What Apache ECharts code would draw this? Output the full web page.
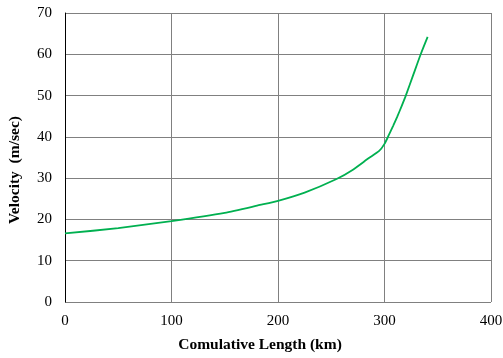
<!DOCTYPE html>
<html><head><meta charset="utf-8">
<script src="https://cdn.jsdelivr.net/npm/echarts@6/dist/echarts.min.js"></script>
<style>html,body{margin:0;padding:0;background:#fff}#c{width:503px;height:358px}</style>
</head><body><div id="c"></div>
<script>
var lengthKm = [0, 50, 100, 150, 183, 200, 225, 255, 270, 285, 295, 300, 304, 308, 312, 316, 320, 327, 334, 340.5];
var velocity = [16.6, 17.9, 19.6, 21.6, 23.5, 24.5, 26.5, 29.8, 32.0, 34.8, 36.6, 38.3, 40.4, 42.6, 44.9, 47.4, 50.0, 55.0, 60.0, 64.2];
var xName = 'Comulative Length (km)';
var yName = 'Velocity  (m/sec)';
var font = '"Liberation Serif", "Times New Roman", serif';
var data = lengthKm.map(function (x, i) { return [x, velocity[i]]; });
var chart = echarts.init(document.getElementById('c'), null, {renderer: 'canvas'});
chart.setOption({
  animation: false,
  grid: {left: 65, right: 12, top: 13, bottom: 56, outerBoundsMode: 'none', containLabel: false},
  xAxis: {
    type: 'value', min: 0, max: 400, interval: 100,
    name: xName, nameLocation: 'middle', nameGap: 35,
    nameTextStyle: {fontFamily: font, fontWeight: 'bold', fontSize: 15.5, color: '#000', padding: [0, 36, 0, 0]},
    axisLine: {show: false}, axisTick: {show: false},
    axisLabel: {fontFamily: font, fontSize: 15, color: '#000', margin: 12},
    splitLine: {show: true, lineStyle: {color: '#808080', width: 1}}
  },
  yAxis: {
    type: 'value', min: 0, max: 70, interval: 10,
    name: yName, nameLocation: 'middle', nameGap: 42,
    nameTextStyle: {fontFamily: font, fontWeight: 'bold', fontSize: 15.5, color: '#000', padding: [0, 25, 0, 0]},
    axisLine: {show: true, lineStyle: {color: '#000', width: 1}}, axisTick: {show: false},
    axisLabel: {fontFamily: font, fontSize: 15, color: '#000', margin: 13},
    splitLine: {show: true, lineStyle: {color: '#808080', width: 1}}
  },
  series: [{
    type: 'line', data: data, smooth: 0.2, showSymbol: false,
    lineStyle: {color: '#00b050', width: 1.8}
  }]
});
</script></body></html>
